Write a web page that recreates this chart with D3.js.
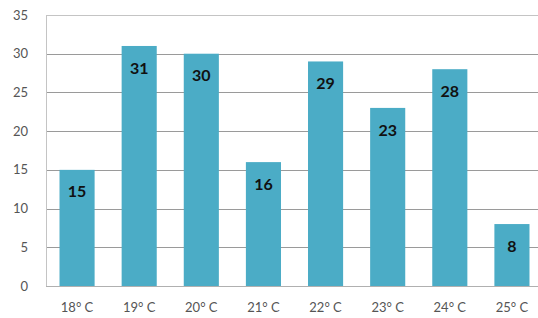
<!DOCTYPE html>
<html>
<head>
<meta charset="utf-8">
<script src="https://cdn.jsdelivr.net/npm/d3@7"></script>
<style>
  body { margin: 0; background: #fff; }
  svg { display: block; font-family: Lato, "Open Sans", sans-serif; }
</style>
</head>
<body>
<div id="chart"></div>
<script>
// Data
const categories = ["18° C", "19° C", "20° C", "21° C", "22° C", "23° C", "24° C", "25° C"];
const values = [15, 31, 30, 16, 29, 23, 28, 8];
const yTicks = [0, 5, 10, 15, 20, 25, 30, 35];

const width = 538;
const height = 318;
const plotLeft = 46, plotTop = 15, plotBottom = 286, plotRight = 543;

const svg = d3.select("#chart").append("svg")
    .attr("width", width)
    .attr("height", height);

const x = d3.scaleBand()
    .domain(categories)
    .range([plotLeft, plotRight])
    .paddingInner(0.435)
    .paddingOuter(0.2175);

const y = d3.scaleLinear()
    .domain([0, 35])
    .range([plotBottom, plotTop]);

// gridlines
svg.append("g")
    .selectAll("line")
    .data(yTicks.filter(d => d > 0))
    .enter().append("line")
    .attr("x1", plotLeft)
    .attr("x2", width)
    .attr("y1", d => Math.round(y(d)) + 0.5)
    .attr("y2", d => Math.round(y(d)) + 0.5)
    .attr("stroke", d => d === 35 ? "#c4c4c4" : "#9a9a9a")
    .attr("stroke-width", 1);

// y axis labels
svg.append("g")
    .selectAll("text")
    .data(yTicks)
    .enter().append("text")
    .attr("x", 28)
    .attr("y", d => y(d))
    .attr("dy", "0.35em")
    .attr("text-anchor", "end")
    .style("font-size", "13px")
    .style("fill", "#555")
    .text(d => d);

// bars
svg.append("g")
    .selectAll("rect")
    .data(values)
    .enter().append("rect")
    .attr("x", (d, i) => x(categories[i]))
    .attr("y", d => y(d))
    .attr("width", x.bandwidth())
    .attr("height", d => plotBottom - y(d))
    .attr("fill", "#4bacc6");

// value labels inside bars
svg.append("g")
    .selectAll("text")
    .data(values)
    .enter().append("text")
    .attr("x", (d, i) => x(categories[i]) + x.bandwidth() / 2)
    .attr("y", d => y(d) + 22)
    .attr("dy", "0.35em")
    .attr("text-anchor", "middle")
    .style("font-size", "16px")
    .style("font-weight", "bold")
    .style("fill", "#111")
    .text(d => d);

// axis lines
svg.append("line")
    .attr("x1", plotLeft + 0.5).attr("x2", plotLeft + 0.5)
    .attr("y1", plotTop).attr("y2", plotBottom)
    .attr("stroke", "#c4c4c4");
svg.append("line")
    .attr("x1", plotLeft).attr("x2", width)
    .attr("y1", plotBottom + 0.5).attr("y2", plotBottom + 0.5)
    .attr("stroke", "#b0b0b0");

// x axis labels
svg.append("g")
    .selectAll("text")
    .data(categories)
    .enter().append("text")
    .attr("x", d => x(d) + x.bandwidth() / 2)
    .attr("y", 307)
    .attr("dy", "0.35em")
    .attr("text-anchor", "middle")
    .style("font-size", "13px")
    .style("fill", "#555")
    .text(d => d);
</script>
</body>
</html>
